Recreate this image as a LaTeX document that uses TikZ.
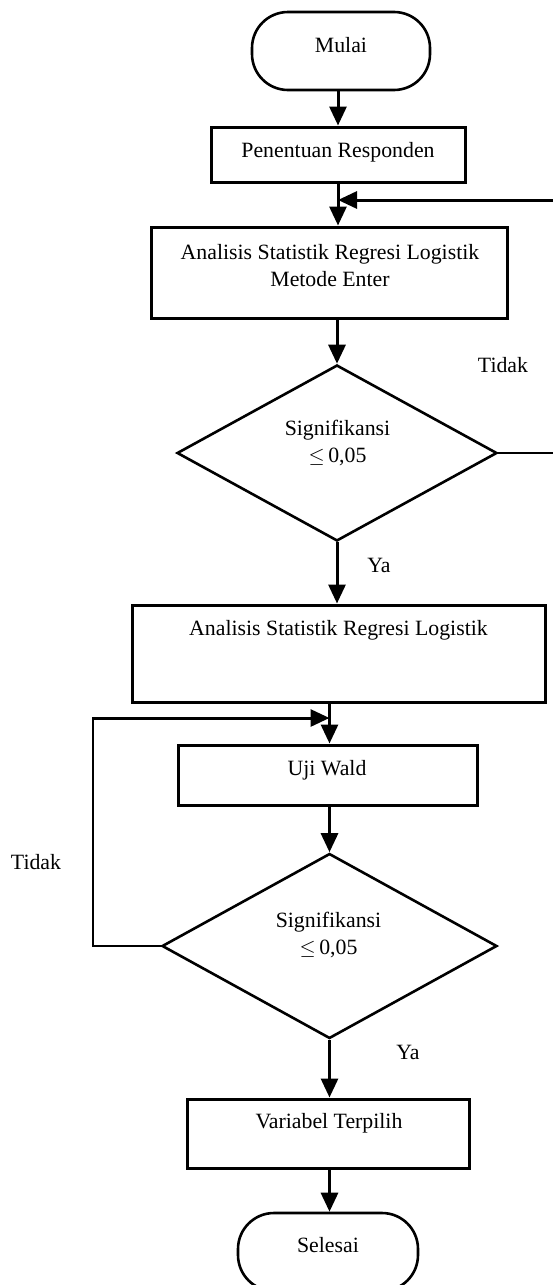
\documentclass[tikz,border=0pt]{standalone}
\usepackage{fontspec}
\setmainfont{Liberation Serif}
\usetikzlibrary{arrows.meta,shapes.geometric}
\begin{document}
\begin{tikzpicture}[x=1pt,y=-1pt,
  every node/.style={font=\fontsize{21.8pt}{27pt}\selectfont},
  boxnode/.style={draw,line width=3pt,rectangle,inner sep=0pt},
  termnode/.style={draw,line width=2.6pt,rectangle,rounded corners=36pt,inner sep=0pt},
  dianode/.style={draw,line width=2.6pt,diamond,inner sep=0pt},
  txt/.style={inner sep=0pt,align=center},
  arr/.style={line width=3pt,-{Triangle[length=19pt,width=17pt]}},
  thinline/.style={line width=1.4pt}
]
\useasboundingbox (0,0) rectangle (553,1285);
\clip (0,0) rectangle (553,1285);

% nodes
\node[termnode,minimum width=178pt,minimum height=78pt] (mulai) at (341,51) {};
\node[txt] (mulaiT) at (341,45) {Mulai};

\node[boxnode,minimum width=254pt,minimum height=55pt] (resp) at (338,154.5) {};
\node[txt] (respT) at (338,152) {Penentuan Responden};

\node[boxnode,minimum width=356pt,minimum height=91pt] (enter) at (329,272.5) {};
\node[txt] (enterT) at (330,266) {Analisis Statistik Regresi Logistik\\Metode Enter};

\node[dianode,minimum width=320pt,minimum height=176pt] (dia1) at (337,453) {};
\node[txt] (dia1T) at (337.5,443) {Signifikansi\\$\leq$\,0,05};

\node[txt] (tidak1) at (503,365) {Tidak};
\node[txt] (ya1) at (379,565) {Ya};

\node[boxnode,minimum width=413pt,minimum height=97pt] (box2) at (338.5,653.5) {};
\node[txt] (box2T) at (338.5,630) {Analisis Statistik Regresi Logistik};

\node[boxnode,minimum width=299pt,minimum height=60pt] (uji) at (327.5,775) {};
\node[txt] (ujiT) at (327,770) {Uji Wald};

\node[dianode,minimum width=335pt,minimum height=185pt] (dia2) at (329.5,946) {};
\node[txt] (dia2T) at (328.5,935) {Signifikansi\\$\leq$\,0,05};

\node[txt] (tidak2) at (36,862) {Tidak};
\node[txt] (ya2) at (408,1052) {Ya};

\node[boxnode,minimum width=282pt,minimum height=69pt] (var) at (328,1133.5) {};
\node[txt] (varT) at (329,1123) {Variabel Terpilih};

\node[termnode,minimum width=180pt,minimum height=78pt] (selesai) at (328,1252) {};
\node[txt] (selesaiT) at (328,1245) {Selesai};

% free ends
\coordinate (rtop) at (553,200);
\coordinate (rbot) at (553,453);
\coordinate (lc) at (93,718);

% main flow
\draw[arr] (resp.north |- mulai.south) -- (resp.north);
\draw[arr] (resp.south) -- (resp.south |- enter.north);
\draw[arr] (dia1.north |- enter.south) -- (dia1.north);
\draw[arr] (dia1.south) -- (dia1.south |- box2.north);
\draw[arr] (box2.south -| dia2.north) -- (uji.north -| dia2.north);
\draw[arr] (uji.south -| dia2.north) -- (dia2.north);
\draw[arr] (dia2.south) -- (dia2.south |- var.north);
\draw[arr] (var.south -| dia2.south) -- (selesai.north -| dia2.south);

% right loop
\draw[thinline] (dia1.east) -- (rbot);
\draw[arr] (rtop) -- (rtop -| resp.south);

% left loop
\draw[thinline] (dia2.west) -| (lc);
\draw[arr] ([xshift=-0.7pt]lc) -- (lc -| dia2.north);
\end{tikzpicture}
\end{document}
